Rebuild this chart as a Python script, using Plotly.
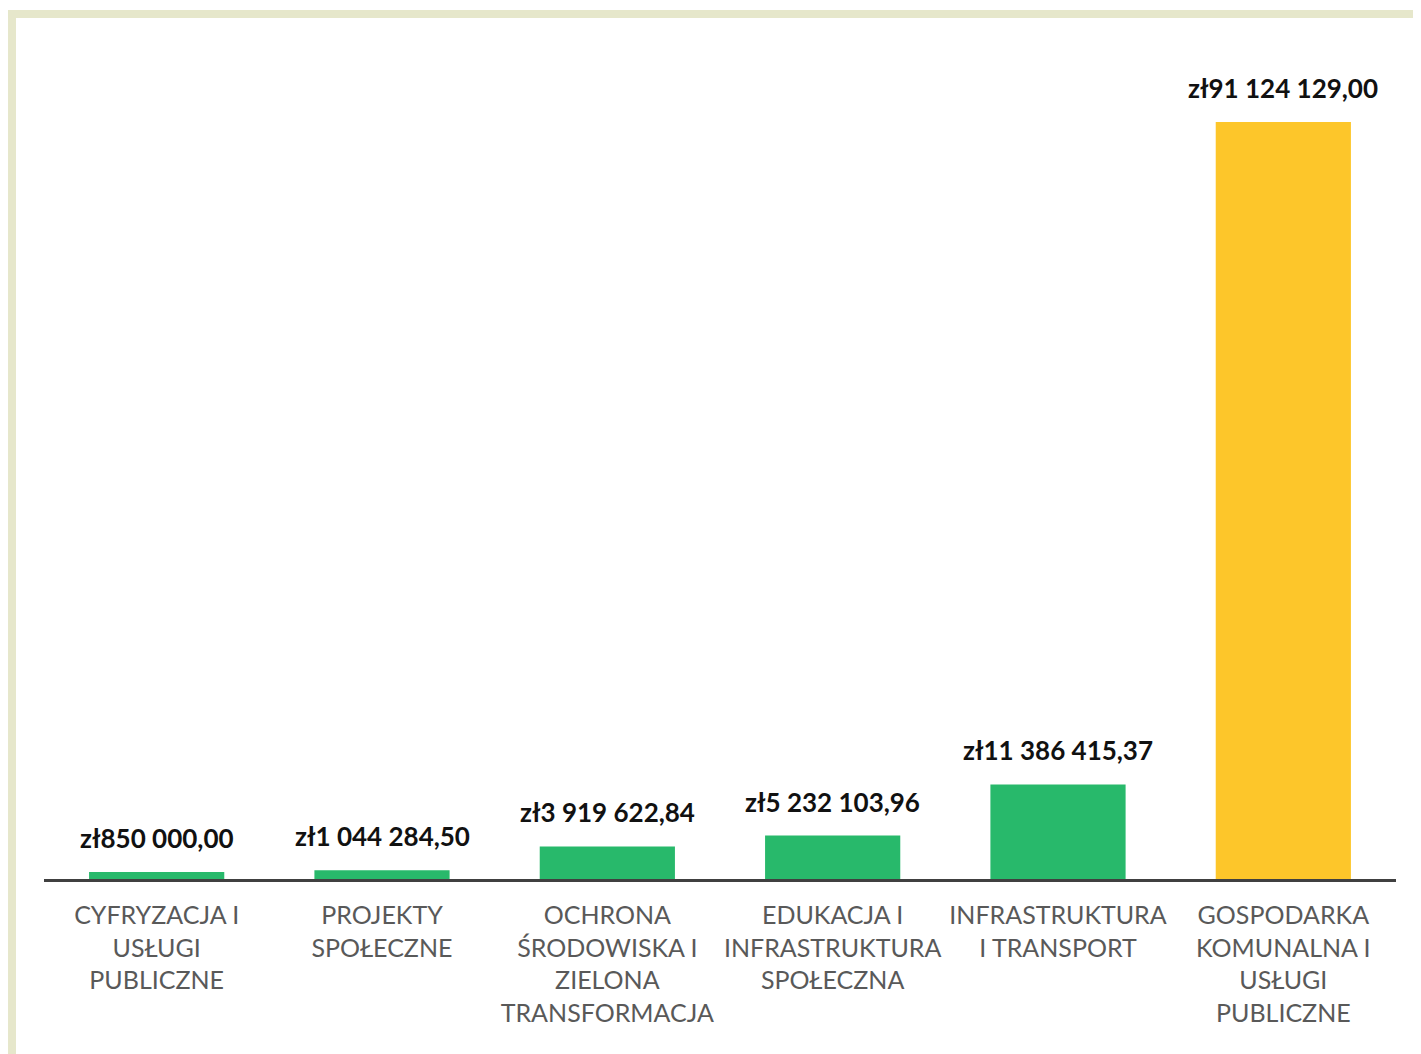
import plotly.graph_objects as go

categories = [
    "CYFRYZACJA I<br>USŁUGI<br>PUBLICZNE",
    "PROJEKTY<br>SPOŁECZNE",
    "OCHRONA<br>ŚRODOWISKA I<br>ZIELONA<br>TRANSFORMACJA",
    "EDUKACJA I<br>INFRASTRUKTURA<br>SPOŁECZNA",
    "INFRASTRUKTURA<br>I TRANSPORT",
    "GOSPODARKA<br>KOMUNALNA I<br>USŁUGI<br>PUBLICZNE",
]
values = [850000.00, 1044284.50, 3919622.84, 5232103.96, 11386415.37, 91124129.00]
colors = ["#28B96B", "#28B96B", "#28B96B", "#28B96B", "#28B96B", "#FDC62A"]


def pln(v):
    # polish style: space thousands, comma decimals
    s = f"{v:,.2f}".replace(",", " ").replace(".", ",")
    return "zł" + s


labels = [pln(v) for v in values]

fig = go.Figure()
fig.add_trace(go.Bar(
    x=categories,
    y=values,
    marker=dict(color=colors, line=dict(width=0)),
    hovertext=labels,
    hoverinfo="text",
))

# value labels above bars
for c, v, t in zip(categories, values, labels):
    fig.add_annotation(
        x=c, y=v, text=t, showarrow=False,
        yanchor="bottom", yshift=16,
        font=dict(family="Lato", size=26, color="#111111", weight="bold"),
    )

fig.update_layout(
    width=1421,
    height=1054,
    margin=dict(l=36, r=33, t=32, b=183),
    paper_bgcolor="white",
    plot_bgcolor="white",
    bargap=0.4,
    showlegend=False,
    font=dict(family="Lato"),
    xaxis=dict(
        showline=True,
        linecolor="#404040",
        linewidth=3,
        ticks="",
        ticklabelstandoff=12,
        tickfont=dict(family="Lato", size=25, color="#595959"),
    ),
    yaxis=dict(
        range=[0, 101e6],
        visible=False,
        showgrid=False,
        zeroline=False,
    ),
    shapes=[
        # cream frame along top and left edge
        dict(type="rect", xref="paper", yref="paper",
             x0=-0.0266, x1=1.06, y0=1.0262, y1=1.0358,
             fillcolor="#E6E7CB", line=dict(width=0), layer="below"),
        dict(type="rect", xref="paper", yref="paper",
             x0=-0.0266, x1=-0.0207, y0=-0.23, y1=1.0358,
             fillcolor="#E6E7CB", line=dict(width=0), layer="below"),
    ],
)

fig.write_html("out.html")
